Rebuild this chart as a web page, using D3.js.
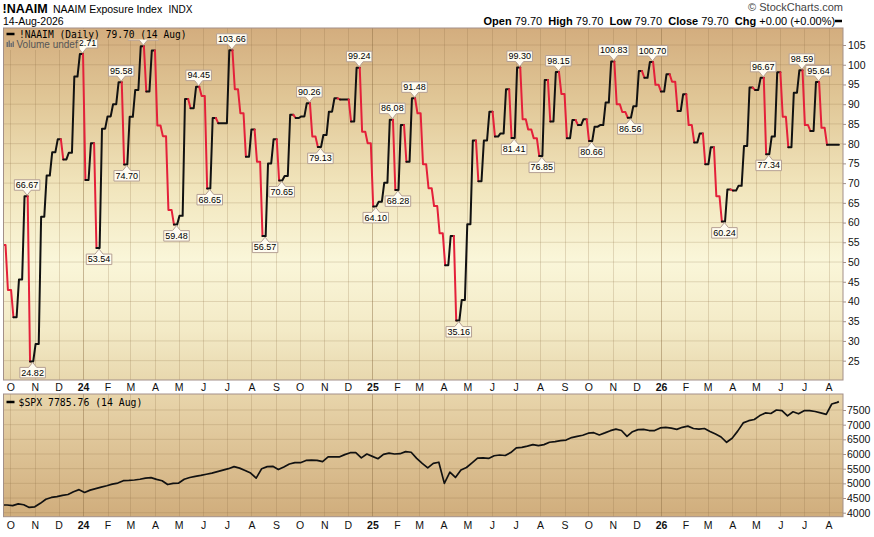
<!DOCTYPE html>
<html><head><meta charset="utf-8">
<script src="https://cdn.jsdelivr.net/npm/d3@7"></script>
<style>
body{margin:0;background:#fff;}
text{font-family:"Liberation Sans",Arial,sans-serif;}
.mono{font-family:"DejaVu Sans Mono",monospace;}
</style>
</head><body>
<svg id="c" width="874" height="537"></svg>
<script>
// ---------- DATA ----------
const naaimStart = "2023-09-20"; // weekly (Wednesday) readings
const naaimValues = [
 54.3, 42.9, 36.0, 45.6, 66.67, 24.82, 29.2, 61.5, 71.9, 77.8,
 81.1, 76.0, 77.7, 97.0, 102.71, 70.8, 80.1, 53.54, 83.8, 86.9,
 90.0, 95.58, 74.70, 86.8, 93.6, 104.7, 93.2, 103.6, 84.6, 81.9,
 63.2, 59.48, 61.7, 91.3, 89.0, 94.45, 92.1, 68.65, 86.5, 85.2,
 85.2, 103.66, 93.8, 87.7, 76.7, 83.6, 75.4, 56.57, 75.0, 81.1,
 70.65, 71.8, 87.3, 86.5, 86.9, 90.26, 81.8, 79.13, 82.2, 88.1,
 91.5, 91.2, 91.2, 85.6, 99.24, 83.0, 80.1, 64.10, 65.3, 70.1,
 86.08, 68.28, 84.7, 75.4, 91.48, 87.7, 74.8, 68.7, 64.2, 57.3,
 49.2, 56.6, 35.16, 40.4, 59.6, 80.8, 70.5, 80.8, 88.1, 81.8,
 82.6, 93.8, 81.41, 99.30, 86.2, 83.6, 81.4, 76.85, 96.1, 85.6,
 98.15, 92.6, 81.4, 86.0, 84.7, 86.2, 80.66, 84.3, 84.7, 90.4,
 100.83, 90.0, 88.0, 86.56, 89.5, 98.4, 96.7, 100.70, 94.9, 93.2,
 97.6, 95.7, 88.3, 92.5, 84.7, 80.3, 82.6, 74.8, 79.1, 66.7,
 60.24, 68.4, 68.1, 69.3, 79.4, 94.2, 93.6, 96.67, 77.34, 81.8,
 98.1, 86.8, 79.1, 92.9, 98.59, 84.7, 83.2, 95.64, 84.0, 79.70,
 79.70, 79.70
];
// S&P 500 read at the same weekly dates
const spxValues = [
 4262, 4262, 4240, 4300, 4270, 4180, 4200, 4320, 4460, 4520,
 4550, 4590, 4620, 4715, 4785, 4690, 4770, 4820, 4870, 4920,
 4975, 5010, 5090, 5100, 5115, 5140, 5180, 5195, 5135, 5090,
 4960, 5000, 5010, 5140, 5200, 5240, 5270, 5310, 5350, 5400,
 5450, 5500, 5570, 5520, 5440, 5350, 5180, 5500, 5570, 5580,
 5470, 5560, 5660, 5705, 5705, 5780, 5795, 5785, 5740, 5900,
 5900, 5900, 5980, 6045, 6045, 5870, 6000, 5920, 5840, 5990,
 6030, 6000, 6010, 6080, 6060, 5850, 5680, 5530, 5680, 5720,
 5000, 5380, 5200, 5455, 5540, 5700, 5860, 5870, 5850, 5940,
 5966, 5950, 6050, 6210, 6228, 6270, 6320, 6285, 6320, 6400,
 6425, 6455, 6475, 6560, 6600, 6640, 6710, 6727, 6650, 6720,
 6795, 6850, 6800, 6600, 6760, 6830, 6840, 6800, 6800, 6890,
 6910, 6880, 6840, 6910, 6950, 6870, 6850, 6870, 6770, 6680,
 6580, 6400, 6535, 6780, 7060, 7136, 7175, 7310, 7400, 7380,
 7500, 7480, 7300, 7440, 7370, 7477, 7480, 7450, 7400, 7350,
 7705, 7760
];
const spxLastDate = "2026-08-14";
const spxLastValue = 7785.76;
const naaimTicks = [25,30,35,40,45,50,55,60,65,70,75,80,85,90,95,100,105];
const spxTicks = [4000,4500,5000,5500,6000,6500,7000,7500];
// indices of annotated weekly readings
const peakLabels = [4,14,21,35,41,55,64,70,74,93,100,110,117,137,144,147];
const hiddenPeak = 25; // label hidden behind the legend in the original
const troughLabels = [5,17,22,31,37,47,50,57,67,71,82,92,97,106,113,130,138];

// ---------- LAYOUT ----------
const svg = d3.select("#c");
const L = 3.5, R = 843;
const T1 = 28, B1 = 380, T2 = 394, B2 = 516.7;
const RED = "#e4203a";
const parse = d3.timeParse("%Y-%m-%d");
const d0 = parse(naaimStart);
const dates = naaimValues.map((v,i)=>d3.timeDay.offset(d0, 7*i));

const x = d3.scaleTime().domain([new Date(2023,8,22,10), new Date(2026,7,19,5)]).range([L,R]);
const y1 = d3.scaleLinear().domain([20.10,109.31]).range([B1,T1]);
const y2 = d3.scaleLinear().domain([3863.7,8045.3]).range([B2,T2]);

const defs = svg.append("defs");
const g1 = defs.append("linearGradient").attr("id","g1").attr("gradientUnits","userSpaceOnUse")
  .attr("x1",0).attr("x2",0).attr("y1",T1).attr("y2",B1);
[[0,"#d3ad7e"],[0.2,"#e0c696"],[0.45,"#f1e5bc"],[0.66,"#faf6d9"],[0.86,"#f3eac6"],[1,"#e8d8ae"]]
 .forEach(s=>g1.append("stop").attr("offset",s[0]).attr("stop-color",s[1]));
const g2 = defs.append("linearGradient").attr("id","g2").attr("gradientUnits","userSpaceOnUse")
  .attr("x1",0).attr("x2",0).attr("y1",T2).attr("y2",B2);
[[0,"#e8d5ab"],[1,"#d0ad7c"]].forEach(s=>g2.append("stop").attr("offset",s[0]).attr("stop-color",s[1]));
defs.append("clipPath").attr("id","cp1").append("rect").attr("x",L).attr("y",T1).attr("width",R-L).attr("height",B1-T1);
defs.append("clipPath").attr("id","cp2").append("rect").attr("x",L).attr("y",T2).attr("width",R-L).attr("height",B2-T2);

// panels
svg.append("rect").attr("x",L).attr("y",T1).attr("width",R-L).attr("height",B1-T1).attr("fill","url(#g1)");
svg.append("rect").attr("x",L).attr("y",T2).attr("width",R-L).attr("height",B2-T2).attr("fill","url(#g2)");

const months = d3.timeMonth.range(d3.timeMonth.ceil(x.domain()[0]), x.domain()[1]);
function grid(yScale, ticks, top, bot){
  const g = svg.append("g");
  g.selectAll("line.h").data(ticks).join("line")
    .attr("x1",L).attr("x2",R).attr("y1",d=>yScale(d)).attr("y2",d=>yScale(d))
    .attr("stroke","#8a6a40").attr("stroke-opacity",0.22).attr("stroke-width",1);
  g.selectAll("line.v").data(months).join("line")
    .attr("x1",d=>Math.round(x(d))+0.5).attr("x2",d=>Math.round(x(d))+0.5).attr("y1",top).attr("y2",bot)
    .attr("stroke","#8a6a40").attr("stroke-opacity",d=>d.getMonth()===0?0.45:0.22).attr("stroke-width",1);
}
grid(y1, naaimTicks, T1, B1);
grid(y2, spxTicks, T2, B2);

// ---------- NAAIM step line ----------
const DAY = 864e5;
const n = naaimValues.length;
const verts = [[x.domain()[0], naaimValues[0]]];
const cols = [];
for (let i=0;i<n;i++){
  const v = naaimValues[i];
  const hEnd = i<n-1 ? new Date(+dates[i+1]-2*DAY) : d3.timeDay.offset(dates[i],2);
  const downIn = i===0 ? true : v < naaimValues[i-1];
  const downOut = i<n-1 && naaimValues[i+1] < v;
  verts.push([hEnd, v]); cols.push(downIn && downOut ? RED : "#111");
  if (i<n-1){
    verts.push([new Date(+dates[i+1]+1*DAY), naaimValues[i+1]]);
    cols.push(naaimValues[i+1] < v ? RED : "#111");
  }
}
const runs = [];
for (let k=0;k<cols.length;k++){
  if (!runs.length || runs[runs.length-1].c!==cols[k]) runs.push({c:cols[k], pts:[verts[k]]});
  runs[runs.length-1].pts.push(verts[k+1]);
}
const line1 = d3.line().x(d=>x(d[0])).y(d=>y1(d[1]));
const lg1 = svg.append("g").attr("clip-path","url(#cp1)");
lg1.selectAll("path").data(runs).join("path")
  .attr("d",d=>line1(d.pts)).attr("fill","none").attr("stroke",d=>d.c)
  .attr("stroke-width",2).attr("stroke-linejoin","round").attr("stroke-linecap","round");

// ---------- labels ----------
function drawLabel(i, above, withText){
  const a = +dates[i] + DAY, b = i<n-1 ? +dates[i+1]-2*DAY : +dates[i]+2*DAY;
  const cx = x(new Date((a+b)/2)) + 1;
  const py = y1(naaimValues[i]);
  const g = lg1.append("g");
  const t = g.append("text").attr("font-size","9px").attr("text-anchor","middle").attr("fill","#000")
    .text(naaimValues[i].toFixed(2));
  const w = t.node().getComputedTextLength() + 3;
  if (!withText) t.remove();
  const th = 5, bh = 10.5;
  let p;
  if (above){
    const tip = py - 1, base = tip - th, topY = base - bh;
    p = `M${cx-w/2},${topY}H${cx+w/2}V${base}H${cx+4}L${cx},${tip}L${cx-4},${base}H${cx-w/2}Z`;
    t.attr("x",cx).attr("y",base-2.3);
  } else {
    const tip = py + 1, base = tip + th, botY = base + bh;
    p = `M${cx-w/2},${base}H${cx-4}L${cx},${tip}L${cx+4},${base}H${cx+w/2}V${botY}H${cx-w/2}Z`;
    t.attr("x",cx).attr("y",botY-2.3);
  }
  g.insert("path",":first-child").attr("d",p).attr("fill","#fffcf0").attr("stroke","#b5a094").attr("stroke-width",1);
}
drawLabel(hiddenPeak,true,false);
peakLabels.forEach(i=>drawLabel(i,true,true));
troughLabels.forEach(i=>drawLabel(i,false,true));

// ---------- SPX line ----------
const spxPts = spxValues.map((v,i)=>[dates[i],v]).concat([[parse(spxLastDate), spxLastValue]]);
const line2 = d3.line().x(d=>x(d[0])).y(d=>y2(d[1]));
svg.append("g").attr("clip-path","url(#cp2)").append("path").attr("d",line2(spxPts))
  .attr("fill","none").attr("stroke","#111").attr("stroke-width",1.7).attr("stroke-linejoin","round");

// ---------- legends (drawn over the labels) ----------
svg.append("rect").attr("x",L+0.5).attr("y",T1+0.5).attr("width",183).attr("height",11).attr("fill","url(#g1)");
svg.append("rect").attr("x",L+0.5).attr("y",T1+11.5).attr("width",75.5).attr("height",10.5).attr("fill","url(#g1)");
svg.append("line").attr("x1",6.5).attr("x2",14.5).attr("y1",34).attr("y2",34).attr("stroke","#000").attr("stroke-width",2.5);
svg.append("text").attr("class","mono").attr("x",19).attr("y",37.5).attr("font-size","9.6px").attr("fill","#000")
  .text("!NAAIM (Daily) 79.70 (14 Aug)");
const icon = svg.append("g").attr("fill","#707070");
[[6.5,42,1.5,5],[8.5,40.5,1.5,6.5],[10.5,43,1.5,4],[12.5,41.5,1.5,5.5]].forEach(r=>
  icon.append("rect").attr("x",r[0]).attr("y",r[1]).attr("width",r[2]).attr("height",r[3]));
svg.append("text").attr("x",16.5).attr("y",48).attr("font-size","10px").attr("fill","#555").text("Volume undef");

svg.append("line").attr("x1",6.5).attr("x2",14.5).attr("y1",402).attr("y2",402).attr("stroke","#000").attr("stroke-width",2.5);
svg.append("text").attr("class","mono").attr("x",18.5).attr("y",405.5).attr("font-size","9.8px").attr("fill","#000")
  .text("$SPX 7785.76 (14 Aug)");

// ---------- borders ----------
svg.append("rect").attr("x",L).attr("y",T1).attr("width",R-L).attr("height",B1-T1).attr("fill","none").attr("stroke","#a39089");
svg.append("rect").attr("x",L).attr("y",T2).attr("width",R-L).attr("height",B2-T2).attr("fill","none").attr("stroke","#a39089");

// ---------- axes ----------
const ax1 = svg.append("g").attr("transform",`translate(${R},0)`)
  .call(d3.axisRight(y1).tickValues(naaimTicks).tickSize(3).tickPadding(2).tickFormat(d3.format("d")));
const ax2 = svg.append("g").attr("transform",`translate(${R},0)`)
  .call(d3.axisRight(y2).tickValues(spxTicks).tickSize(3).tickPadding(1).tickFormat(d3.format("d")));
[ax1,ax2].forEach(a=>{
  a.select(".domain").remove();
  a.selectAll(".tick line").attr("stroke","#a39089");
  a.selectAll("text").attr("font-family","Liberation Sans, Arial, sans-serif").attr("font-size","10.5px").attr("fill","#111");
});
const mfmt = d => d.getMonth()===0 ? d3.timeFormat("%y")(d) : d3.timeFormat("%b")(d)[0];
function xAxis(yBase){
  const g = svg.append("g").attr("transform",`translate(0,${yBase})`)
    .call(d3.axisBottom(x).tickValues(months).tickFormat(mfmt).tickSize(0).tickPadding(0));
  g.select(".domain").remove();
  g.selectAll("text").attr("font-family","Liberation Sans, Arial, sans-serif").attr("font-size","10.5px")
    .attr("fill","#111").attr("dy",0).attr("y",0)
    .attr("font-weight",d=>d.getMonth()===0?"bold":"normal");
}
xAxis(390.5);
xAxis(528.5);

// ---------- header ----------
svg.append("text").attr("x",2.5).attr("y",13).attr("font-size","12.5px").attr("font-weight","bold").text("!NAAIM");
svg.append("text").attr("x",53).attr("y",13).attr("font-size","10.5px").text("NAAIM Exposure Index");
svg.append("text").attr("x",168.5).attr("y",13).attr("font-size","10px").text("INDX");
svg.append("text").attr("x",3).attr("y",25).attr("font-size","10.5px").text("14-Aug-2026");
svg.append("text").attr("x",843).attr("y",11).attr("text-anchor","end").attr("font-size","11px").attr("fill","#444")
  .text("© StockCharts.com");
const hdr = svg.append("text").attr("x",483.5).attr("y",24.5).attr("font-size","11px").attr("fill","#000");
[["Open",1],[" 79.70",0],["  High",1],[" 79.70",0],["  Low",1],[" 79.70",0],["  Close",1],[" 79.70",0],["  Chg",1],[" +0.00 (+0.00%)",0]]
 .forEach(p=>hdr.append("tspan").attr("font-weight",p[1]?"bold":"normal").style("white-space","pre").text(p[0]));
svg.append("line").attr("x1",835).attr("x2",842).attr("y1",21).attr("y2",21).attr("stroke","#000").attr("stroke-width",2.5);
</script>
</body></html>
